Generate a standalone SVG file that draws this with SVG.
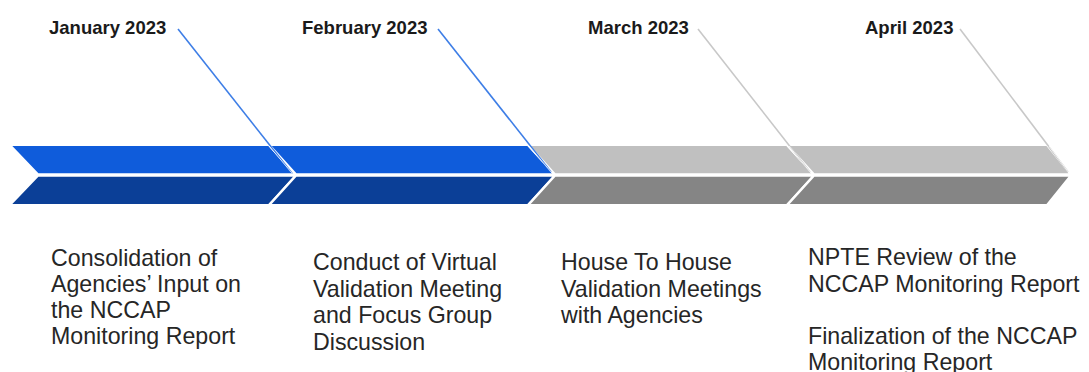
<svg xmlns="http://www.w3.org/2000/svg" width="1089" height="372" viewBox="0 0 1089 372">
<style>
.hd{font-family:"Liberation Sans",Arial,sans-serif;font-weight:bold;font-size:18.5px;fill:#1a1a1a}
.bd{font-family:"Liberation Sans",Arial,sans-serif;font-size:23.2px;fill:#262626}
.pc{stroke:#fff;stroke-width:2.5;stroke-linejoin:miter}
.bu{fill:#0f5cdb}.bl{fill:#0b3f97}.gu{fill:#c0c0c0}.gl{fill:#858585}
.ld{fill:none;stroke-width:1.6}
.lb{stroke:#3e7ee6}.lg{stroke:#c8c8c8}
.lw{stroke:#fff;stroke-width:1;opacity:0.8}
</style>
<rect width="1089" height="372" fill="#fff"/>
<g id="bar">
<g id="seg-jan">
<path class="pc bu" d="M9.5,144.75 L269,144.75 L296,174.5 L38,174.5 Z"/>
<path class="pc bl" d="M38,175.5 L296,175.5 L269,205.25 L9.5,205.25 Z"/>
</g>
<g id="seg-feb">
<path class="pc bu" d="M269,144.75 L528,144.75 L555,174.5 L296,174.5 Z"/>
<path class="pc bl" d="M296,175.5 L555,175.5 L528,205.25 L269,205.25 Z"/>
</g>
<g id="seg-mar">
<path class="pc gu" d="M528,144.75 L787,144.75 L814,174.5 L555,174.5 Z"/>
<path class="pc gl" d="M555,175.5 L814,175.5 L787,205.25 L528,205.25 Z"/>
</g>
<g id="seg-apr">
<path class="pc gu" d="M787,144.75 L1047,144.75 L1071,174.5 L814,174.5 Z"/>
<path class="pc gl" d="M814,175.5 L1071,175.5 L1047,205.25 L787,205.25 Z"/>
</g>
</g>
<g id="connectors">
<line class="ld lb" x1="178" y1="29" x2="291" y2="172"/>
<line class="lw" x1="269" y1="146" x2="292" y2="173"/>
<line class="ld lb" x1="438" y1="29" x2="551" y2="172"/>
<line class="lw" x1="529" y1="146" x2="552" y2="173"/>
<line class="ld lg" x1="698" y1="29" x2="810" y2="172"/>
<line class="lw" x1="789" y1="146" x2="811" y2="173"/>
<line class="ld lg" x1="960" y1="29" x2="1068" y2="172"/>
<line class="lw" x1="1049" y1="146" x2="1069" y2="173"/>
</g>
<g id="node-jan">
<text class="hd" x="49" y="34">January 2023</text>
<text class="bd" x="51" y="266">Consolidation of</text>
<text class="bd" x="51" y="292">Agencies’ Input on</text>
<text class="bd" x="51" y="318">the NCCAP</text>
<text class="bd" x="51" y="344">Monitoring Report</text>
</g>
<g id="node-feb">
<text class="hd" x="302" y="34">February 2023</text>
<text class="bd" x="313" y="270">Conduct of Virtual</text>
<text class="bd" x="313" y="297">Validation Meeting</text>
<text class="bd" x="313" y="323">and Focus Group</text>
<text class="bd" x="313" y="350">Discussion</text>
</g>
<g id="node-mar">
<text class="hd" x="588" y="34">March 2023</text>
<text class="bd" x="561" y="270">House To House</text>
<text class="bd" x="561" y="297">Validation Meetings</text>
<text class="bd" x="561" y="323">with Agencies</text>
</g>
<g id="node-apr">
<text class="hd" x="865" y="34">April 2023</text>
<text class="bd" x="808" y="265">NPTE Review of the</text>
<text class="bd" x="808" y="292">NCCAP Monitoring Report</text>
<text class="bd" x="808" y="344">Finalization of the NCCAP</text>
<text class="bd" x="808" y="370">Monitoring Report</text>
</g>
</svg>
